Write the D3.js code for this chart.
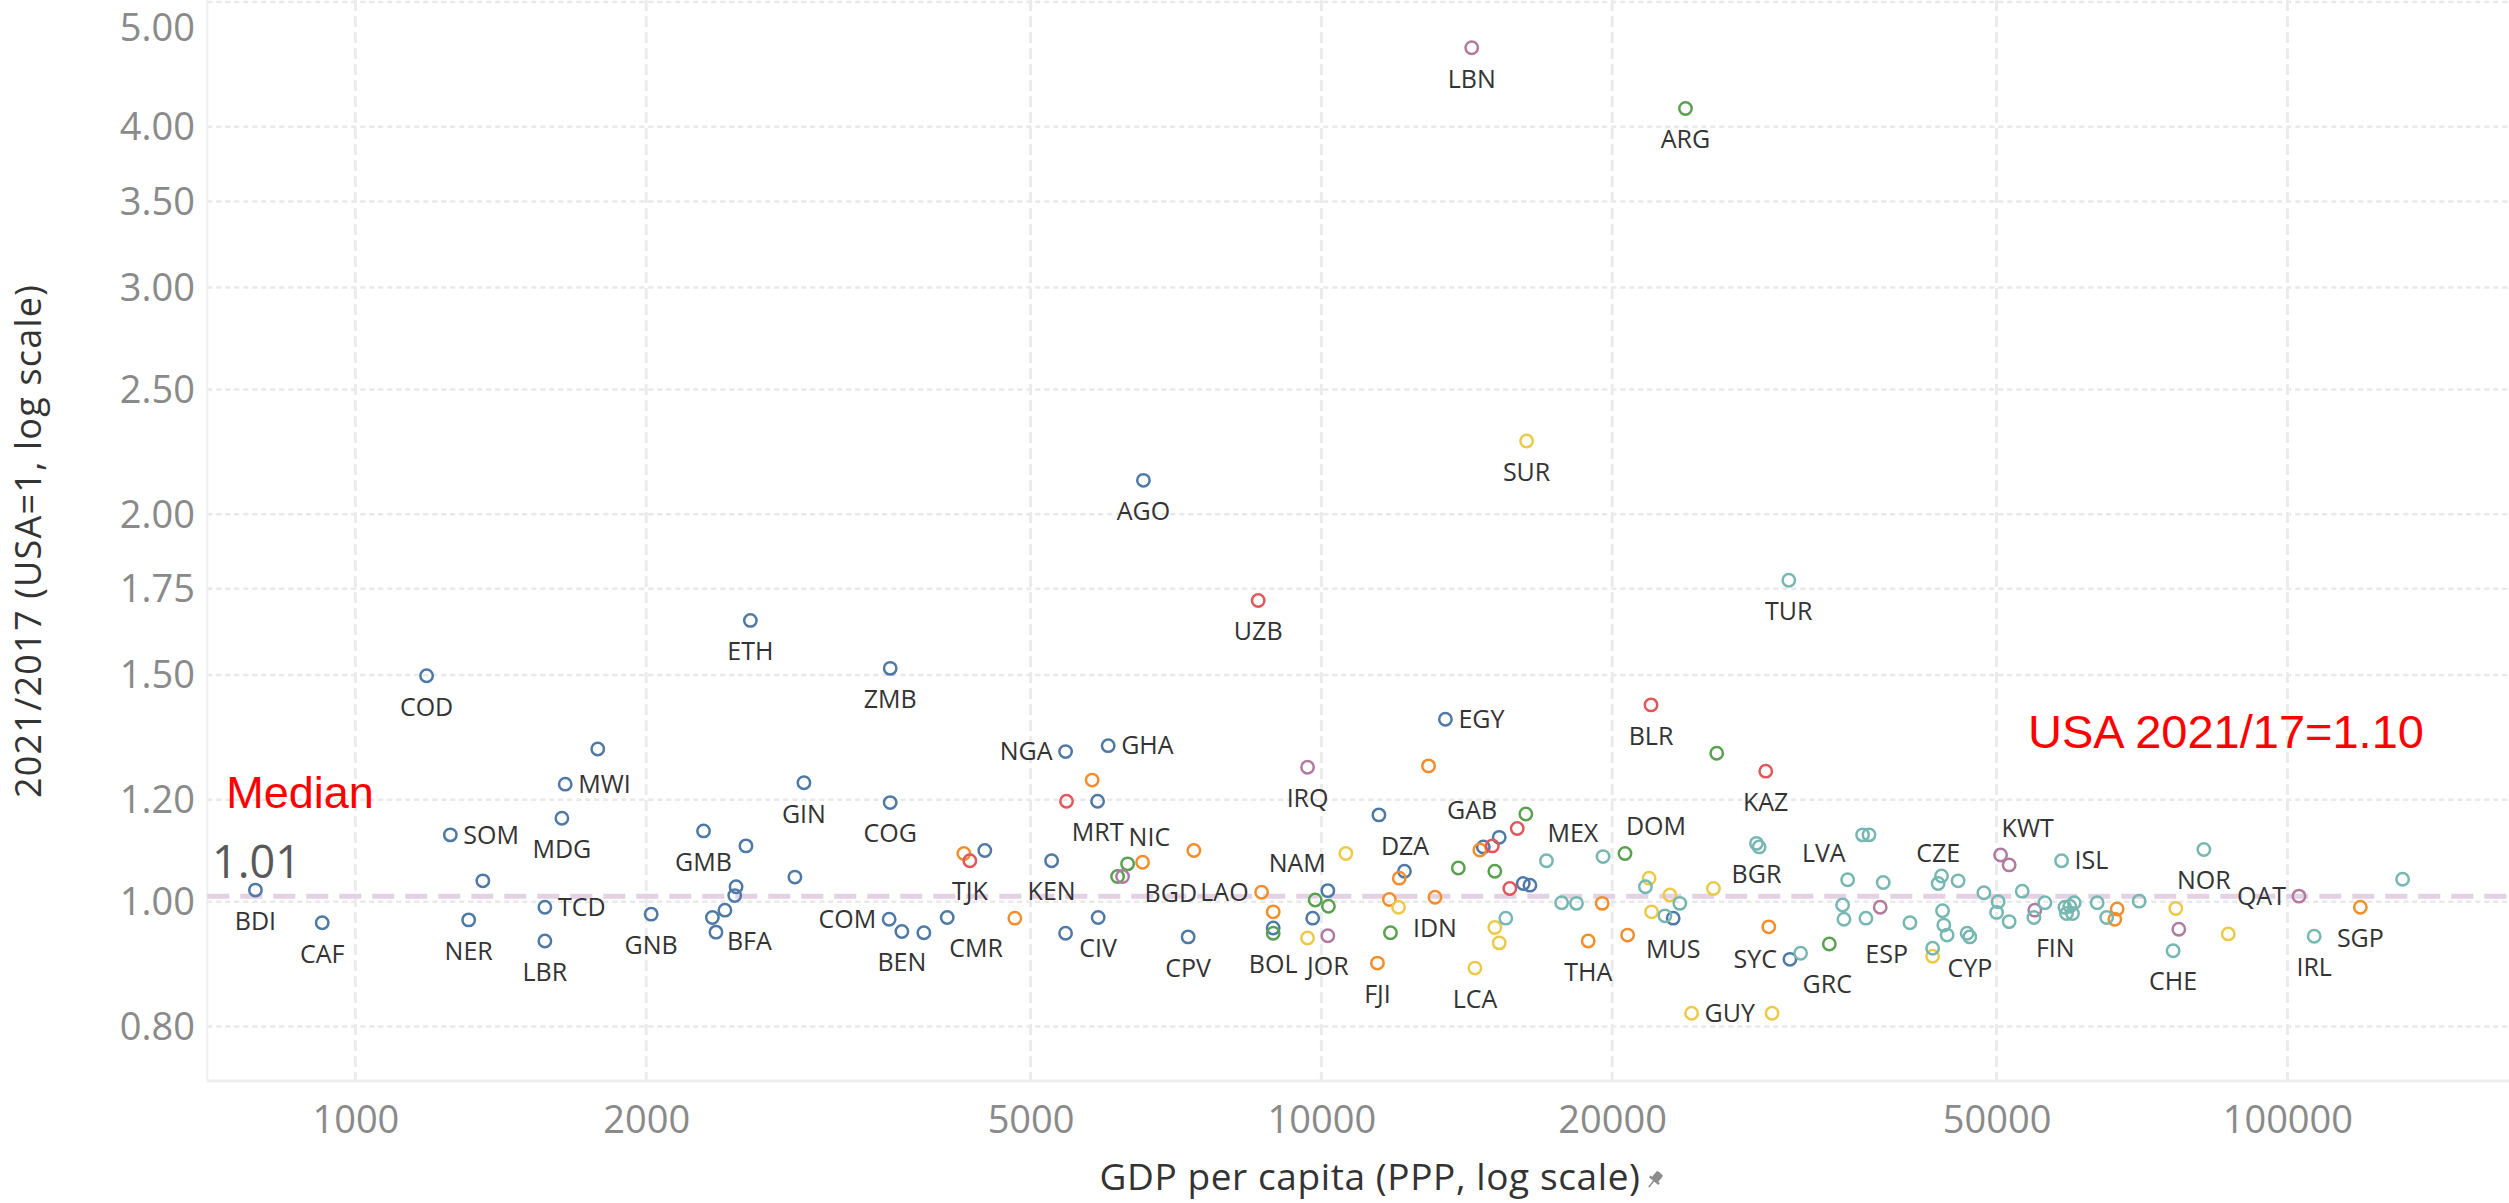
<!DOCTYPE html>
<html>
<head>
<meta charset="utf-8">
<script src="https://cdn.jsdelivr.net/npm/d3@7"></script>
<style>
  html, body { margin: 0; padding: 0; background: #fff; }
  svg { display: block; }
  text { font-family: "Open Sans", "Noto Sans", sans-serif; }
</style>
</head>
<body>
<svg id="chart" width="2509" height="1203"></svg>
<script>
// ---------------- DATA ----------------
// [country code ("" = unlabeled), GDP per capita (PPP), 2021/2017 ratio (USA=1)]
const africa = [
  ["BDI",788,1.021],["CAF",924,0.963],["COD",1185,1.498],["SOM",1254,1.127],
  ["NER",1310,0.968],["",1355,1.038],["TCD",1571,0.990],["LBR",1571,0.932],
  ["MDG",1636,1.161],["MWI",1649,1.234],["",1782,1.314],["GNB",2024,0.978],
  ["GMB",2293,1.135],["",2342,0.972],["",2362,0.947],["BFA",2413,0.985],
  ["",2470,1.011],["",2478,1.027],["",2537,1.105],["ETH",2564,1.654],
  ["",2851,1.045],["GIN",2913,1.237],["COM",3569,0.969],["ZMB",3578,1.518],
  ["COG",3578,1.194],["BEN",3679,0.948],["",3877,0.946],["CMR",4099,0.972],
  ["",4483,1.096],["KEN",5257,1.076],["NGA",5435,1.308],["",5435,0.945],
  ["MRT",5866,1.197],["CIV",5874,0.972],["GHA",6016,1.322],["AGO",6543,2.125],
  ["CPV",7279,0.939],["",8915,0.954],["",9795,0.971],["NAM",10155,1.020],
  ["DZA",11470,1.168],["",12190,1.056],["EGY",13440,1.386],["",14710,1.103],
  ["GAB",15280,1.122],["",16180,1.033],["",16440,1.030],["MUS",23130,0.971],
  ["SYC",30550,0.902]
];
const asia = [
  ["",4265,1.090],["",4816,0.971],["",5790,1.243],["BGD",6530,1.073],
  ["",7379,1.096],["LAO",8672,1.017],["",8915,0.982],["FJI",11430,0.896],
  ["",11760,1.004],["",12040,1.043],["",12910,1.275],["IDN",13110,1.008],
  ["",14590,1.097],["THA",18890,0.932],["",19530,0.997],["",20750,0.942],
  ["",29050,0.956],["",66650,0.987],["",66280,0.969],["SGP",119000,0.990]
];
const cis = [
  ["TJK",4326,1.076],["",5447,1.197],["UZB",8602,1.714],["",15030,1.105],
  ["",15670,1.024],["",15950,1.140],["BLR",21940,1.422],["KAZ",28840,1.263]
];
const latinAmerica = [
  ["",6152,1.046],["NIC",6301,1.070],["BOL",8915,0.945],["",9854,1.003],
  ["",10170,0.992],["",11790,0.946],["",13860,1.062],["",15120,1.056],
  ["",16280,1.170],["DOM",20620,1.090],["ARG",23820,4.133],["",25660,1.304],
  ["",33560,0.927]
];
const caribbean = [
  ["",9676,0.937],["",10600,1.090],["",12020,0.990],["LCA",14420,0.888],
  ["",15120,0.955],["",15280,0.929],["SUR",16310,2.280],["",21840,1.043],
  ["",21970,0.982],["",22950,1.012],["GUY",24170,0.819],["",25460,1.024],
  ["",29280,0.819],["",42930,0.907],["",76650,0.988],["",86860,0.944]
];
const middleEast = [
  ["",6226,1.046],["IRQ",9676,1.272],["JOR",10155,0.941],["LBN",14310,4.607],
  ["",37890,0.990],["KWT",50480,1.087],["",51520,1.068],["",54770,0.985],
  ["",77200,0.952],["QAT",102800,1.010]
];
const europeOecd = [
  ["",15520,0.971],["MEX",17100,1.076],["",17730,0.998],["",18370,0.997],
  ["",19570,1.084],["",21650,1.027],["",22680,0.975],["",23500,0.997],
  ["TUR",30470,1.777],["BGR",28210,1.110],["",28390,1.103],["GRC",31340,0.912],
  ["",34640,0.994],["",34750,0.969],["LVA",35060,1.040],["",36330,1.127],
  ["",36890,1.127],["",36620,0.971],["",38160,1.035],["ESP",40670,0.963],
  ["",42930,0.920],["",43850,1.047],["CZE",43500,1.033],["",45620,1.038],
  ["",43960,0.984],["",44090,0.959],["",44440,0.942],["",46610,0.945],
  ["CYP",46910,0.939],["",48510,1.016],["",50190,1.000],["",50000,0.981],
  ["",51520,0.965],["",53150,1.019],["FIN",54650,0.972],["",56100,0.998],
  ["ISL",58380,1.076],["",58840,0.990],["",59540,0.992],["",60160,0.998],
  ["",59070,0.979],["",59920,0.979],["",63550,0.998],["",65000,0.972],
  ["",70240,1.001],["NOR",81950,1.098],["CHE",76160,0.916],["IRL",106600,0.940],
  ["",131600,1.041]
];

const regionNames = ["Africa","Asia","CIS","Latin America","Caribbean","Middle East","Europe/OECD"];
const regionData  = [africa, asia, cis, latinAmerica, caribbean, middleEast, europeOecd];

const xTickValues = [1000, 2000, 5000, 10000, 20000, 50000, 100000];
const yTickValues = [0.80, 1.00, 1.20, 1.50, 1.75, 2.00, 2.50, 3.00, 3.50, 4.00, 5.00];
const medianValue = 1.01;
const usaValue = 1.10;
const xDomain = [702.6, 169600];
const yDomain = [0.7256, 5.018];

// label placement relative to its point: b below, r right, l left, a above, br/bl/ar/al corners
const labelPlacement = {
  r: ["SOM","TCD","MWI","GHA","EGY","GUY","ISL"],
  l: ["COM","NGA","SYC","LAO","QAT"],
  br: ["BFA","CMR","DZA","BGD","GRC","FIN"],
  bl: ["ESP"],
  ar: ["NIC","DOM","KWT","MEX"],
  al: ["NAM","GAB","LVA"],
  a: ["CZE"]
};

// ---------------- CHART ----------------
const W = 2509, H = 1203;
const plot = { left: 207.3, right: 2509, top: 0, bottom: 1081 };
const svg = d3.select("#chart");

const x = d3.scaleLog().domain(xDomain).range([plot.left, plot.right]);
const y = d3.scaleLog().domain(yDomain).range([plot.bottom, plot.top]);
const color = d3.scaleOrdinal()
  .domain(regionNames)
  .range(["#4e79a7","#f28e2b","#e15759","#59a14f","#edc948","#b07aa1","#76b7b2"]);

const points = [];
regionData.forEach((arr, i) => arr.forEach(([code, gdp, ratio]) =>
  points.push({ code, gdp, ratio, region: regionNames[i] })));

const placeOf = {};
Object.entries(labelPlacement).forEach(([k, codes]) => codes.forEach(c => placeOf[c] = k));

// gridlines
const grid = svg.append("g");
grid.selectAll("line.hg").data(yTickValues).join("line")
  .attr("x1", plot.left).attr("x2", plot.right)
  .attr("y1", d => y(d)).attr("y2", d => y(d))
  .attr("stroke", "#e9e9e9").attr("stroke-width", 2.5)
  .attr("stroke-dasharray", "5 4");
grid.selectAll("line.vg").data(xTickValues).join("line")
  .attr("y1", plot.top).attr("y2", plot.bottom)
  .attr("x1", d => x(d)).attr("x2", d => x(d))
  .attr("stroke", "#ebebeb").attr("stroke-width", 3)
  .attr("stroke-dasharray", "11 5");

// axis lines
svg.append("line").attr("x1", plot.left).attr("x2", plot.left)
  .attr("y1", plot.top).attr("y2", plot.bottom)
  .attr("stroke", "#efefef").attr("stroke-width", 2);
svg.append("line").attr("x1", plot.left).attr("x2", plot.right)
  .attr("y1", plot.bottom).attr("y2", plot.bottom)
  .attr("stroke", "#ededed").attr("stroke-width", 3);

// median reference line
svg.append("line")
  .attr("x1", plot.left).attr("x2", plot.right)
  .attr("y1", y(medianValue)).attr("y2", y(medianValue))
  .attr("stroke", "#e4d2e4").attr("stroke-width", 5)
  .attr("stroke-dasharray", "22 11");

// y axis tick labels
const yAxis = d3.axisLeft(y).tickValues(yTickValues).tickFormat(d3.format(".2f")).tickSize(0);
const gy = svg.append("g").attr("transform", `translate(195,0)`).call(yAxis);
gy.select(".domain").remove();
gy.selectAll(".tick").attr("transform", d => `translate(0,${Math.max(y(d), 28)})`);
gy.selectAll(".tick text")
  .attr("x", 0).attr("dy", "0.35em")
  .attr("fill", "#8a8a8a")
  .style("font-family", "'Open Sans', sans-serif").style("font-size", "38px");

// x axis tick labels
const xAxis = d3.axisBottom(x).tickValues(xTickValues).tickFormat(d3.format("d")).tickSize(0);
const gx = svg.append("g").attr("transform", `translate(0,1120)`).call(xAxis);
gx.select(".domain").remove();
gx.selectAll(".tick text")
  .attr("y", 0).attr("dy", "0.35em")
  .attr("fill", "#8a8a8a")
  .style("font-family", "'Open Sans', sans-serif").style("font-size", "38px");

// axis titles
svg.append("text")
  .attr("transform", "translate(41,541) rotate(-90)")
  .attr("text-anchor", "middle")
  .attr("fill", "#333").style("font-size", "36px").style("letter-spacing", "1.2px")
  .text("2021/2017 (USA=1, log scale)");
const xt = svg.append("text")
  .attr("x", 1370).attr("y", 1190)
  .attr("text-anchor", "middle")
  .attr("fill", "#333").style("font-size", "37px").style("letter-spacing", "0.6px")
  .text("GDP per capita (PPP, log scale)");
const xtEnd = 1370 + xt.node().getComputedTextLength() / 2;
// small pin icon
const pin = svg.append("g").attr("transform", `translate(${xtEnd + 14},1180) rotate(40)`);
pin.append("rect").attr("x", -4).attr("y", -9).attr("width", 8).attr("height", 9).attr("rx", 1.5).attr("fill", "#8d8d8d");
pin.append("rect").attr("x", -6).attr("y", -1).attr("width", 12).attr("height", 2.5).attr("fill", "#8d8d8d");
pin.append("line").attr("x1", 0).attr("x2", 0).attr("y1", 1).attr("y2", 9).attr("stroke", "#8d8d8d").attr("stroke-width", 1.5);

// points
svg.append("g").selectAll("circle").data(points).join("circle")
  .attr("cx", d => x(d.gdp)).attr("cy", d => y(d.ratio))
  .attr("r", 6.2)
  .attr("fill", "none")
  .attr("stroke", d => color(d.region))
  .attr("stroke-width", 2.5);

// point labels
function labelPos(d) {
  const cx = x(d.gdp), cy = y(d.ratio);
  switch (placeOf[d.code] || "b") {
    case "r":  return [cx + 13, cy, "start"];
    case "l":  return [cx - 13, cy, "end"];
    case "br": return [cx + 2, cy + 31, "start"];
    case "bl": return [cx - 2, cy + 31, "end"];
    case "ar": return [cx + 1, cy - 27, "start"];
    case "al": return [cx - 2, cy - 27, "end"];
    case "a":  return [cx, cy - 30, "middle"];
    default:   return [cx, cy + 31, "middle"];
  }
}
svg.append("g").selectAll("text").data(points.filter(d => d.code)).join("text")
  .each(function(d) {
    const [lx, ly, anchor] = labelPos(d);
    d3.select(this).attr("x", lx).attr("y", ly).attr("text-anchor", anchor);
  })
  .attr("dy", "0.35em")
  .attr("fill", "#333")
  .style("font-size", "25px")
  .text(d => d.code);

// annotations
svg.append("text")
  .attr("x", 300).attr("y", 808)
  .attr("text-anchor", "middle")
  .attr("fill", "#ff0000")
  .style("font-family", "'Liberation Sans', Arial, sans-serif").style("font-size", "45px")
  .text("Median");
svg.append("text")
  .attr("x", 212).attr("y", y(medianValue) - 18)
  .attr("fill", "#595959")
  .style("font-size", "45px")
  .text(d3.format(".2f")(medianValue));
svg.append("text")
  .attr("x", 2226).attr("y", 748)
  .attr("text-anchor", "middle")
  .attr("fill", "#ff0000")
  .style("font-family", "'Liberation Sans', Arial, sans-serif").style("font-size", "47px")
  .text(`USA 2021/17=${d3.format(".2f")(usaValue)}`);
</script>
</body>
</html>
